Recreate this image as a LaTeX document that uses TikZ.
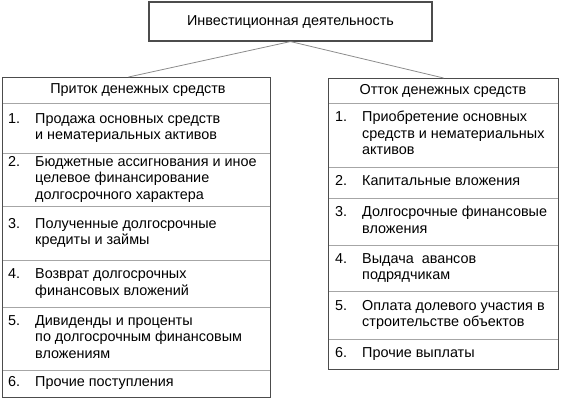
\documentclass[tikz,border=0pt]{standalone}
\usepackage{fontspec}
\setmainfont{Liberation Sans}
\newcommand\myfs{\fontsize{14.4}{16.5}\selectfont}
\newcommand\itemtab[2]{\begin{tabular}{@{}p{27pt}@{}l@{}}#1&\begin{tabular}[t]{@{}l@{}}#2\end{tabular}\end{tabular}}
\begin{document}
\begin{tikzpicture}[x=1pt,y=-1pt,
  outerbox/.style={draw=black!70, line width=1.1pt, inner sep=0pt},
  sepline/.style={draw=black!35, line width=0.9pt},
  conn/.style={draw=black!45, line width=0.8pt},
  hdr/.style={inner sep=0pt, font=\myfs},
  itm/.style={inner sep=0pt, anchor=west, font=\myfs}]
\useasboundingbox (0,0) rectangle (561,400);
% top box
\node[outerbox, minimum width=283, minimum height=39, font=\myfs] (top) at (290.5,21.5) {Инвестиционная деятельность};
% left column
\draw[sepline] (2,103) -- (270,103);
\draw[sepline] (2,153) -- (270,153);
\draw[sepline] (2,206) -- (270,206);
\draw[sepline] (2,260) -- (270,260);
\draw[sepline] (2,307) -- (270,307);
\draw[sepline] (2,370) -- (270,370);
\node[outerbox, minimum width=268, minimum height=320, anchor=north west] (L) at (2,77) {};
\node[hdr] (Lh) at (138,90) {Приток денежных средств};
\node[itm] (L1) at (8,128) {\itemtab{1.}{Продажа основных средств\\и нематериальных активов}};
\node[itm] (L2) at (8,179.5) {\itemtab{2.}{Бюджетные ассигнования и иное\\целевое финансирование\\долгосрочного характера}};
\node[itm] (L3) at (8,233) {\itemtab{3.}{Полученные долгосрочные\\кредиты и займы}};
\node[itm] (L4) at (8,283.5) {\itemtab{4.}{Возврат долгосрочных\\финансовых вложений}};
\node[itm] (L5) at (8,338.5) {\itemtab{5.}{Дивиденды и проценты\\по долгосрочным финансовым\\вложениям}};
\node[itm] (L6) at (8,383.5) {\itemtab{6.}{Прочие поступления}};
% right column
\draw[sepline] (328,103) -- (558,103);
\draw[sepline] (328,167) -- (558,167);
\draw[sepline] (328,198) -- (558,198);
\draw[sepline] (328,245) -- (558,245);
\draw[sepline] (328,291) -- (558,291);
\draw[sepline] (328,339) -- (558,339);
\node[outerbox, minimum width=230, minimum height=291, anchor=north west] (R) at (328,78) {};
\node[hdr] (Rh) at (443,91) {Отток денежных средств};
\node[itm] (R1) at (335,135) {\itemtab{1.}{Приобретение основных\\средств и нематериальных\\активов}};
\node[itm] (R2) at (335,182.5) {\itemtab{2.}{Капитальные вложения}};
\node[itm] (R3) at (335,221.5) {\itemtab{3.}{Долгосрочные финансовые\\вложения}};
\node[itm] (R4) at (335,268) {\itemtab{4.}{Выдача\ \ авансов\\подрядчикам}};
\node[itm] (R5) at (335,315) {\itemtab{5.}{Оплата долевого участия в\\строительстве объектов}};
\node[itm] (R6) at (335,354) {\itemtab{6.}{Прочие выплаты}};
% connectors
\draw[conn] (top.south) -- ([xshift=-8pt]L.north);
\draw[conn] (top.south) -- (R.north);
\end{tikzpicture}
\end{document}
